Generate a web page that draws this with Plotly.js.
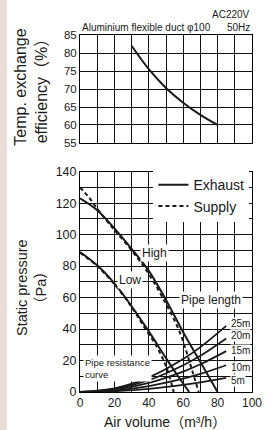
<!DOCTYPE html>
<html>
<head>
<meta charset="utf-8">
<script src="https://cdn.plot.ly/plotly-3.0.1.min.js"></script>
<style>html,body{margin:0;padding:0;background:#fff;}#chart{width:273px;height:430px;}</style>
</head>
<body>
<div id="chart"></div>
<script>
// ---- Data ----
// Temperature exchange efficiency (%) vs air volume (m3/h)
const effX = [30, 40, 50, 60, 70, 80];
const effY = [82, 75.5, 70.3, 66.2, 62.8, 60];

// Static pressure (Pa) vs air volume (m3/h)
const highExhaustX = [0, 10, 20, 30, 40, 50, 60, 70, 80];
const highExhaustY = [123, 115.5, 104, 91, 77, 58.5, 38, 19, 0];
const highSupplyX = [0, 5, 10, 15, 20, 30, 40, 50, 58, 64, 69];
const highSupplyY = [130, 124, 116.5, 109.5, 103, 90, 75, 56, 38, 18, 0];
const lowExhaustX = [0, 10, 20, 30, 40, 50, 57, 63.5];
const lowExhaustY = [89, 80.5, 69, 54.5, 38.5, 21.5, 10, 0];
const lowSupplyX = [0, 10, 20, 30, 38, 44, 49, 52, 54.5];
const lowSupplyY = [88.5, 80, 68.5, 54, 40, 30, 19, 10, 0];

// Pipe resistance curves
const pipeX = [0, 20, 40, 60, 70, 85];
const pipeLengths = ['25m', '20m', '15m', '10m', '5m'];
const pipe25 = [0, 2.3, 9.3, 21, 28.5, 42];
const pipe20 = [0, 1.9, 7.5, 17, 23, 34];
const pipe15 = [0, 1.4, 5.8, 13, 17.6, 26];
const pipe10 = [0, 0.9, 3.8, 8.5, 11.5, 17];
const pipe5  = [0, 0.5, 2.0, 4.5, 6.1, 9];
const pipeSeries = [pipe25, pipe20, pipe15, pipe10, pipe5];

// Tick labels
const effTicks = [55, 60, 65, 70, 75, 80, 85];
const pressureTicks = [0, 20, 40, 60, 80, 100, 120, 140];
const volumeTicks = [0, 20, 40, 60, 80, 100];

// ---- Styling ----
const INK = '#1a1a1a';
const SANS = '"Liberation Sans", Arial, "Noto Sans CJK JP", sans-serif';
const GRID = '#111';

const traces = [];
traces.push({x: effX, y: effY, xaxis: 'x', yaxis: 'y', mode: 'lines',
  line: {color: INK, width: 2, shape: 'spline'}, showlegend: false, hoverinfo: 'skip'});

pipeSeries.forEach((ys, i) => {
  traces.push({x: pipeX, y: ys, xaxis: 'x2', yaxis: 'y2', mode: 'lines',
    line: {color: INK, width: 1.8, shape: 'spline'}, showlegend: false, name: pipeLengths[i], hoverinfo: 'skip'});
});

traces.push({x: highExhaustX, y: highExhaustY, xaxis: 'x2', yaxis: 'y2', mode: 'lines', name: 'Exhaust',
  line: {color: INK, width: 2, shape: 'spline'}, showlegend: true, legendrank: 1});
traces.push({x: highSupplyX, y: highSupplyY, xaxis: 'x2', yaxis: 'y2', mode: 'lines', name: 'Supply',
  line: {color: INK, width: 2, dash: '4px,3px', shape: 'spline'}, showlegend: true, legendrank: 2});
traces.push({x: lowExhaustX, y: lowExhaustY, xaxis: 'x2', yaxis: 'y2', mode: 'lines', name: 'Exhaust low',
  line: {color: INK, width: 2, shape: 'spline'}, showlegend: false});
traces.push({x: lowSupplyX, y: lowSupplyY, xaxis: 'x2', yaxis: 'y2', mode: 'lines', name: 'Supply low',
  line: {color: INK, width: 2, dash: '4px,3px', shape: 'spline'}, showlegend: false});

const axisCommon = {
  showgrid: true, gridcolor: GRID, gridwidth: 1,
  showline: true, mirror: true, linecolor: '#000', linewidth: 1,
  zeroline: false, ticks: '', color: INK, fixedrange: true
};

const layout = {
  width: 273, height: 430,
  margin: {l: 80, r: 21, t: 35, b: 38, pad: 0},
  paper_bgcolor: '#fff', plot_bgcolor: '#fff',
  showlegend: true,
  legend: {x: 0.985, xanchor: 'right', y: 0.624, yanchor: 'top', bgcolor: '#fff',
    font: {family: SANS, size: 14, color: INK}, itemwidth: 30, tracegroupgap: 0,
    borderwidth: 0, traceorder: 'normal'},
  xaxis: Object.assign({}, axisCommon, {domain: [0, 1], anchor: 'y', range: [0, 100], dtick: 10, tick0: 0, showticklabels: false}),
  yaxis: Object.assign({}, axisCommon, {domain: [0.6975, 1], anchor: 'x', range: [55, 85],
    tickmode: 'array', tickvals: effTicks, ticktext: effTicks.map(String),
    tickfont: {family: SANS, size: 11.5, color: INK}}),
  xaxis2: Object.assign({}, axisCommon, {domain: [0, 1], anchor: 'y2', range: [0, 100],
    tickmode: 'array', tickvals: volumeTicks, ticktext: volumeTicks.map(String),
    tickfont: {family: SANS, size: 12, color: INK},
    minor: {dtick: 10, tick0: 0, showgrid: true, gridcolor: GRID, gridwidth: 1, ticks: ''}}),
  yaxis2: Object.assign({}, axisCommon, {domain: [0, 0.6171], anchor: 'x2', range: [0, 140],
    tickmode: 'array', tickvals: pressureTicks, ticktext: pressureTicks.map(String),
    tickfont: {family: SANS, size: 12.5, color: INK},
    minor: {dtick: 10, tick0: 0, showgrid: true, gridcolor: GRID, gridwidth: 1, ticks: ''}}),
  shapes: [
    {type: 'rect', xref: 'paper', yref: 'paper', x0: -0.47, x1: -0.424, y0: -0.2, y1: 1.2,
     fillcolor: '#ecdcd8', line: {width: 0}, layer: 'below'}
  ],
  annotations: []
};

const A = layout.annotations;
const lab = (text, x, y, opts) => A.push(Object.assign({text: text, x: x, y: y, xref: 'x2', yref: 'y2',
  showarrow: false, bgcolor: '#fff', borderpad: 1, font: {family: SANS, size: 12, color: INK}}, opts || {}));

lab('High', 43.6, 88.3);
lab('Low', 29, 71);
lab('Pipe length', 76.2, 58.4);
const pipeLabelY = [43.7, 36.1, 26.5, 15.7, 7.4];
pipeLengths.forEach((t, i) => lab(t, 87.3, pipeLabelY[i], {xanchor: 'left', borderpad: 0, font: {family: SANS, size: 10, color: INK}}));
lab('Pipe resistance<br>curve', 1.6, 15, {xanchor: 'left', align: 'left', font: {family: SANS, size: 9.5, color: INK}});

// titles and notes
A.push({text: 'Temp. exchange<br>efficiency（%）', xref: 'paper', yref: 'paper', x: -0.285, y: 0.855,
  textangle: -90, showarrow: false, font: {family: SANS, size: 16, color: INK}, xanchor: 'center', yanchor: 'middle'});
A.push({text: 'Static pressure<br>（Pa）', xref: 'paper', yref: 'paper', x: -0.285, y: 0.294,
  textangle: -90, showarrow: false, font: {family: SANS, size: 14.5, color: INK}, xanchor: 'center', yanchor: 'middle'});
A.push({text: 'Air volume（m³/h）', xref: 'paper', yref: 'paper', x: 0.494, y: -0.083,
  showarrow: false, font: {family: SANS, size: 14, color: INK}, xanchor: 'center', yanchor: 'middle'});
A.push({text: 'Aluminium flexible duct φ100', xref: 'paper', yref: 'paper', x: 0, y: 1.0224,
  showarrow: false, font: {family: SANS, size: 10, color: INK}, xanchor: 'left', yanchor: 'middle'});
A.push({text: 'AC220V', xref: 'paper', yref: 'paper', x: 1, y: 1.0588,
  showarrow: false, font: {family: SANS, size: 10, color: INK}, xanchor: 'right', yanchor: 'middle'});
A.push({text: '50Hz', xref: 'paper', yref: 'paper', x: 1, y: 1.021,
  showarrow: false, font: {family: SANS, size: 10, color: INK}, xanchor: 'right', yanchor: 'middle'});

Plotly.newPlot('chart', traces, layout, {displayModeBar: false, staticPlot: true});
</script>
</body>
</html>
